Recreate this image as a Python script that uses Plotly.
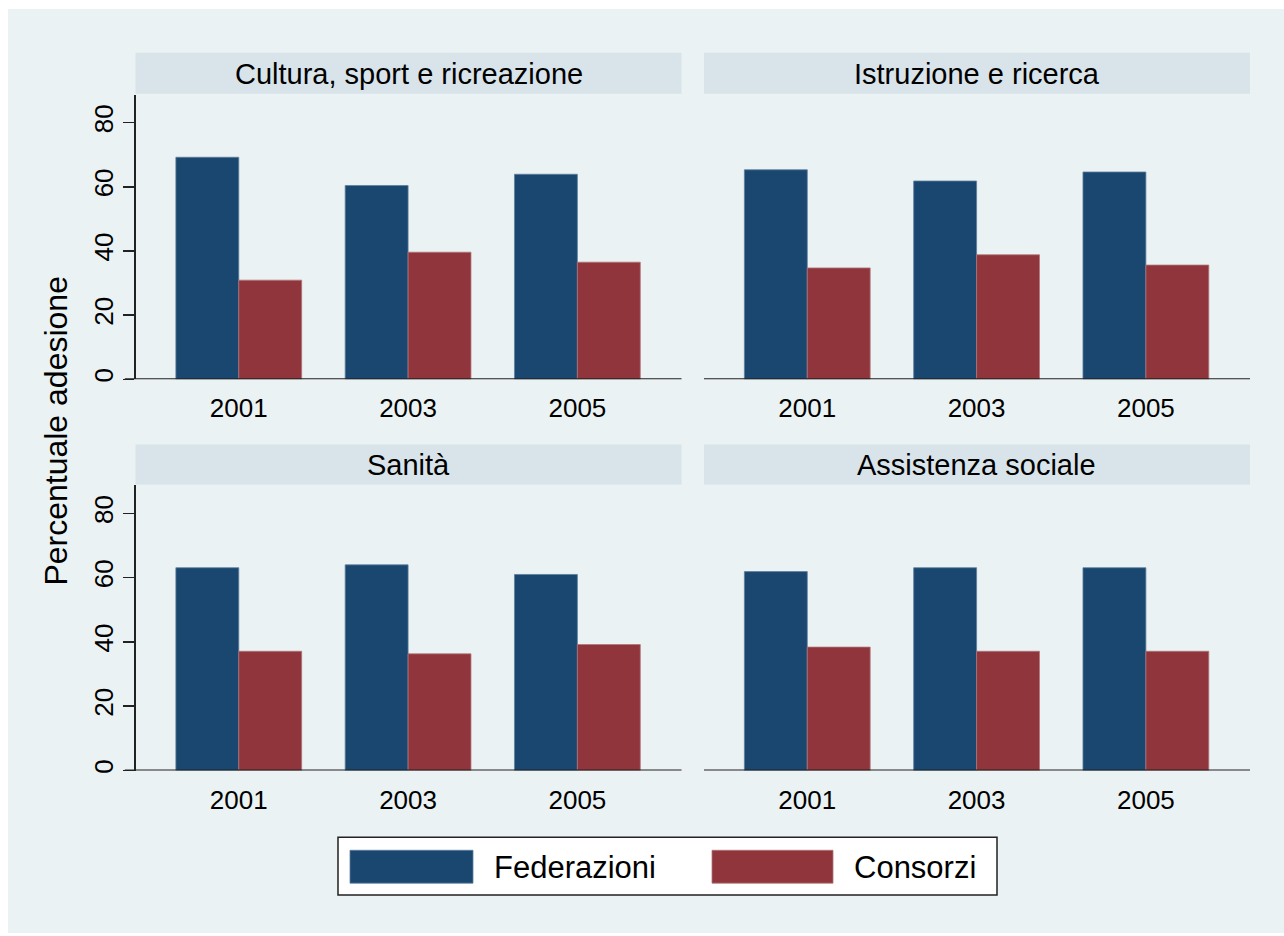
import plotly.graph_objects as go

# ---------------- data ----------------
years = ["2001", "2003", "2005"]
sectors = ["Cultura, sport e ricreazione", "Istruzione e ricerca", "Sanità", "Assistenza sociale"]
series_names = ["Federazioni", "Consorzi"]

fed_cultura = [69.2, 60.4, 63.9]
cons_cultura = [30.9, 39.6, 36.5]
fed_istruzione = [65.3, 61.8, 64.6]
cons_istruzione = [34.7, 38.8, 35.6]
fed_sanita = [63.1, 64.0, 61.0]
cons_sanita = [37.1, 36.3, 39.2]
fed_assistenza = [61.9, 63.1, 63.1]
cons_assistenza = [38.4, 37.1, 37.1]

y_ticks = [0, 20, 40, 60, 80]
y_title = "Percentuale adesione"

# ---------------- style ----------------
W, H = 1284, 936
FONT = "Liberation Sans, Arial, Helvetica, sans-serif"
BG = "#EAF2F3"
STRIP = "#D8E4EA"
GRID = "#EAF2F3"
AXIS = "#222222"
FED_C = "#1A476F"
CONS_C = "#90353B"
FED_EDGE = "#5E7E9E"
CONS_EDGE = "#B07378"


def px(x):
    return x / W


def py(y):
    return 1 - y / H


col_dom = [(135.5, 681.5), (704.0, 1250.0)]
row_dom = [(95.0, 380.5), (487.0, 773.0)]
strip_rows = [(53.0, 94.0), (446.0, 486.0)]

panels = [
    (fed_cultura, cons_cultura),
    (fed_istruzione, cons_istruzione),
    (fed_sanita, cons_sanita),
    (fed_assistenza, cons_assistenza),
]

xpos = list(range(len(years)))

fig = go.Figure()
shapes = []
annotations = []

# background frame (white strip at top/left)
shapes.append(dict(type="rect", xref="paper", yref="paper", x0=px(8), x1=1.0,
                   y0=0.0, y1=py(9), fillcolor=BG, line=dict(width=0), layer="below"))

for i, (fed_vals, cons_vals) in enumerate(panels):
    r, c = divmod(i, 2)
    n = i + 1
    xa = "x" if n == 1 else f"x{n}"
    ya = "y" if n == 1 else f"y{n}"
    fig.add_trace(go.Bar(x=xpos, y=fed_vals, name=series_names[0], xaxis=xa, yaxis=ya,
                         marker=dict(color=FED_C, line=dict(color=FED_EDGE, width=0.8)),
                         showlegend=False, hoverinfo="skip"))
    fig.add_trace(go.Bar(x=xpos, y=cons_vals, name=series_names[1], xaxis=xa, yaxis=ya,
                         marker=dict(color=CONS_C, line=dict(color=CONS_EDGE, width=0.8)),
                         showlegend=False, hoverinfo="skip"))

    x0, x1 = col_dom[c]
    yt, yb = row_dom[r]
    left = c == 0
    fig.layout[f"xaxis{'' if n == 1 else n}"] = dict(
        domain=[px(x0), px(x1)], anchor=ya, range=[-0.61, 2.615],
        tickmode="array", tickvals=xpos, ticktext=years,
        showgrid=False, zeroline=False, showline=False, ticks="",
        tickfont=dict(family=FONT, size=26, color="black"),
        ticklabelstandoff=11, fixedrange=True,
    )
    fig.layout[f"yaxis{'' if n == 1 else n}"] = dict(
        domain=[py(yb), py(yt)], anchor=xa, range=[0, 88.7],
        tickmode="array", tickvals=y_ticks, showticklabels=left,
        ticks="outside" if left else "", ticklen=11, tickwidth=1.5, tickcolor=AXIS,
        tickangle=-90, tickfont=dict(family=FONT, size=26, color="black"),
        showgrid=True, gridcolor=GRID, gridwidth=2.5, zeroline=False,
        showline=left, linecolor=AXIS, linewidth=1.5, fixedrange=True,
    )
    # x axis line (extends under the y ticks on the left column)
    shapes.append(dict(type="line", xref=f"{xa} domain", yref=ya,
                       x0=(-0.0195 if left else 0.0), x1=1.0, y0=0, y1=0,
                       line=dict(color=AXIS, width=2)))
    # strip
    s0, s1 = strip_rows[r]
    shapes.append(dict(type="rect", xref="paper", yref="paper", x0=px(x0), x1=px(x1),
                       y0=py(s1), y1=py(s0), fillcolor=STRIP, line=dict(width=0)))
    annotations.append(dict(text=sectors[i], xref="paper", yref="paper",
                            x=px((x0 + x1) / 2), y=py((s0 + s1) / 2 + 0.5),
                            xanchor="center", yanchor="middle", showarrow=False,
                            font=dict(family=FONT, size=29, color="black")))

# y title
annotations.append(dict(text=y_title, xref="paper", yref="paper", x=px(56), y=py(432),
                        xanchor="center", yanchor="middle", textangle=-90, showarrow=False,
                        font=dict(family=FONT, size=32, color="black")))

# legend box
shapes.append(dict(type="rect", xref="paper", yref="paper", x0=px(338), x1=px(997),
                   y0=py(898), y1=py(840), fillcolor="white", line=dict(color=AXIS, width=1.5)))
sw = [((350, 473), FED_C, FED_EDGE, 492), ((712, 833), CONS_C, CONS_EDGE, 852)]
for k, ((a, b), col, edge, tx) in enumerate(sw):
    shapes.append(dict(type="rect", xref="paper", yref="paper", x0=px(a), x1=px(b),
                       y0=py(886), y1=py(853), fillcolor=col, line=dict(color=edge, width=0.8)))
    annotations.append(dict(text=series_names[k], xref="paper", yref="paper",
                            x=px(tx), y=py(870), xanchor="left", yanchor="middle",
                            showarrow=False, font=dict(family=FONT, size=31, color="black")))

fig.update_layout(
    width=W, height=H, autosize=False,
    margin=dict(l=0, r=0, t=0, b=0, pad=0),
    paper_bgcolor="white", plot_bgcolor="white",
    barmode="group", bargap=0.257, bargroupgap=0.0,
    shapes=shapes, annotations=annotations,
    showlegend=False,
    font=dict(family=FONT, color="black"),
)

fig.write_html(
    "out.html",
    config={"displayModeBar": False, "staticPlot": True},
    post_script="document.body.style.margin='0';document.body.style.overflow='hidden';",
)
